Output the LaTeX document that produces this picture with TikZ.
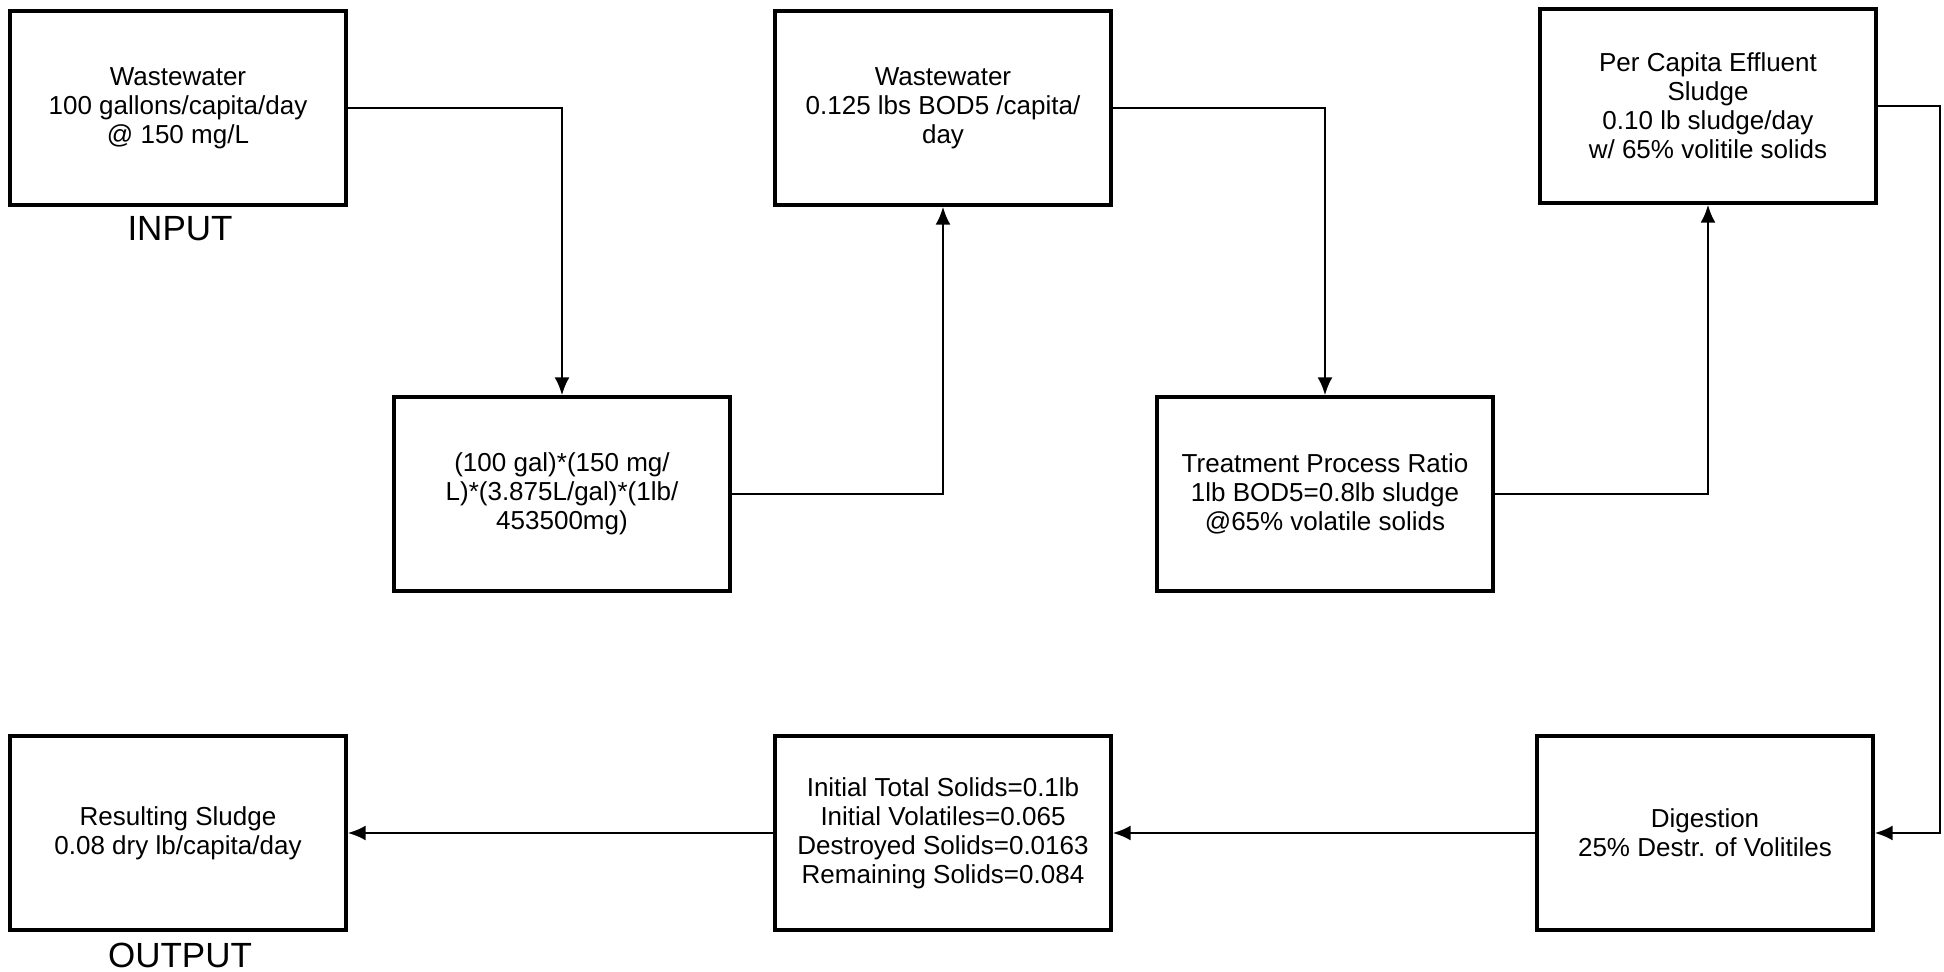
\documentclass[tikz,border=0pt]{standalone}
\usepackage{fontspec}
\setmainfont{Liberation Sans}
\usetikzlibrary{arrows.meta}
\tikzset{
  box/.style={draw, line width=1.6pt, minimum width=168pt, minimum height=97pt,
    align=center, inner sep=0pt, font=\fontsize{13}{14.5}\selectfont},
  conn/.style={line width=1.4pt, -{Latex[length=9pt,width=7.5pt]}},
  biglabel/.style={font=\fontsize{17.5}{20}\selectfont, inner sep=0pt}
}
\begin{document}
\begin{tikzpicture}[x=0.5pt,y=-0.5pt]
\useasboundingbox (0,0) rectangle (1944,972);
\node[box] (A) at (178,108) {Wastewater\\100 gallons/capita/day\\@ 150 mg/L};
\node[box] (B) at (562,494) {(100 gal)*(150 mg/\\L)*(3.875L/gal)*(1lb/\\453500mg)};
\node[box] (C) at (943,108) {Wastewater\\0.125 lbs BOD5 /capita/\\day};
\node[box] (D) at (1325,494) {Treatment Process Ratio\\1lb BOD5=0.8lb sludge\\@65\% volatile solids};
\node[box] (E) at (1708,106) {Per Capita Effluent\\Sludge\\0.10 lb sludge/day\\w/ 65\% volitile solids};
\node[box] (F) at (1705,833) {Digestion\\25\% Destr. of Volitiles};
\node[box] (G) at (943,833) {Initial Total Solids=0.1lb\\Initial Volatiles=0.065\\Destroyed Solids=0.0163\\Remaining Solids=0.084};
\node[box] (H) at (178,833) {Resulting Sludge\\0.08 dry lb/capita/day};
\node[biglabel] (in) at (180,229) {INPUT};
\node[biglabel] (out) at (180,955) {OUTPUT};
\coordinate (r1) at (1940,106);
\coordinate (r2) at (1940,833);
\draw[conn] (A.east) -| (B.north);
\draw[conn] (B.east) -| (C.south);
\draw[conn] (C.east) -| (D.north);
\draw[conn] (D.east) -| (E.south);
\draw[conn] (E.east) -- (r1) -- (r2) -- (F.east);
\draw[conn] (F.west) -- (G.east);
\draw[conn] (G.west) -- (H.east);
\end{tikzpicture}
\end{document}
